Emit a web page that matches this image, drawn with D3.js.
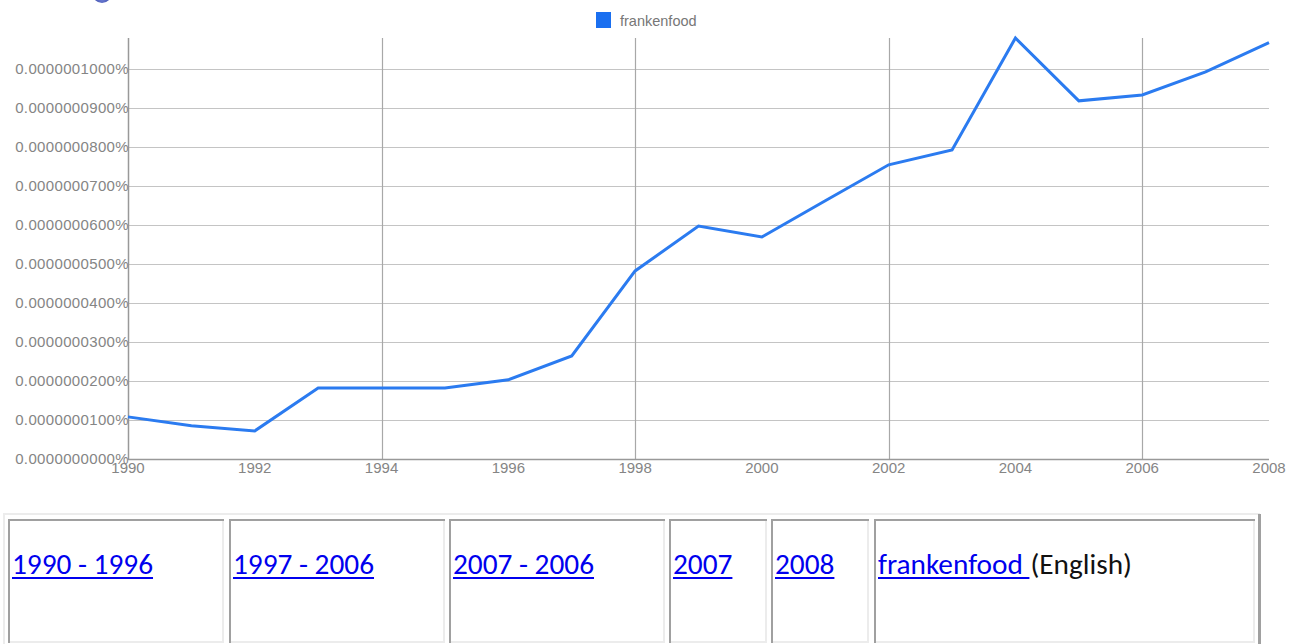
<!DOCTYPE html>
<html>
<head>
<meta charset="utf-8">
<script src="https://cdn.jsdelivr.net/npm/d3@7"></script>
<style>
  html, body { margin: 0; padding: 0; background: #fff; }
  svg { display: block; }
</style>
</head>
<body>
<svg id="chart" width="1298" height="644"></svg>
<script>
// ---- data ----
const seriesName = "frankenfood";
const years = [1990, 1991, 1992, 1993, 1994, 1995, 1996, 1997, 1998, 1999,
               2000, 2001, 2002, 2003, 2004, 2005, 2006, 2007, 2008];
// share of corpus, in percent
const values = [0.0000000108, 0.0000000085, 0.0000000072, 0.0000000182, 0.0000000182,
                0.0000000182, 0.0000000203, 0.0000000264, 0.0000000482, 0.0000000597,
                0.0000000569, 0.0000000662, 0.0000000754, 0.0000000792, 0.0000001079,
                0.0000000918, 0.0000000933, 0.0000000992, 0.0000001067];
const yTicks = [0, 0.00000001, 0.00000002, 0.00000003, 0.00000004, 0.00000005,
                0.00000006, 0.00000007, 0.00000008, 0.00000009, 0.0000001];
const xTickLabels = [1990, 1992, 1994, 1996, 1998, 2000, 2002, 2004, 2006, 2008];
const xGridYears = [1994, 1998, 2002, 2006];
const linkLabels = ["1990 - 1996", "1997 - 2006", "2007 - 2006", "2007", "2008", "frankenfood "];
const linkSuffix = "(English)";

(function () {
// ---- layout ----
const svg = d3.select("#chart");
const pL = 128, pR = 1269, pT = 38, pB = 459;
const x = d3.scaleLinear().domain([1990, 2008]).range([pL, pR]);
const y = d3.scaleLinear().domain([0, d3.max(values)]).range([pB, pT]);
const fmt = d3.format(".10f");

// partial logo circle at top-left
const grad = svg.append("defs").append("radialGradient").attr("id", "lg")
  .attr("cx", "50%").attr("cy", "80%").attr("r", "60%");
grad.append("stop").attr("offset", "0%").attr("stop-color", "#6f7fd6");
grad.append("stop").attr("offset", "100%").attr("stop-color", "#2a3a9a");
svg.append("circle").attr("cx", 102).attr("cy", -7).attr("r", 10).attr("fill", "url(#lg)");

// legend
svg.append("rect").attr("x", 596).attr("y", 12).attr("width", 15).attr("height", 16).attr("fill", "#1a6ff0");
svg.append("text").attr("x", 620).attr("y", 26).text(seriesName)
  .attr("font-family", "Liberation Sans, Arial, sans-serif").attr("font-size", 14.5).attr("fill", "#777");

// horizontal grid
svg.append("g").selectAll("line").data(yTicks.slice(1)).join("line")
  .attr("x1", pL).attr("x2", pR)
  .attr("y1", d => Math.round(y(d)) + 0.5).attr("y2", d => Math.round(y(d)) + 0.5)
  .attr("stroke", "#c4c4c4").attr("stroke-width", 1.2);

// vertical grid
svg.append("g").selectAll("line").data(xGridYears).join("line")
  .attr("x1", d => Math.round(x(d)) + 0.5).attr("x2", d => Math.round(x(d)) + 0.5)
  .attr("y1", pT).attr("y2", pB)
  .attr("stroke", "#a8a8a8").attr("stroke-width", 1.2);

// axes lines
svg.append("line").attr("x1", pL + 0.5).attr("x2", pL + 0.5).attr("y1", pT).attr("y2", pB + 1)
  .attr("stroke", "#999").attr("stroke-width", 1.5);
svg.append("line").attr("x1", pL).attr("x2", pR).attr("y1", pB + 0.5).attr("y2", pB + 0.5)
  .attr("stroke", "#999").attr("stroke-width", 1.5);

// y labels
svg.append("g").selectAll("text").data(yTicks).join("text")
  .attr("x", 129).attr("y", d => y(d)).attr("dy", "0.36em")
  .attr("text-anchor", "end")
  .attr("font-family", "Liberation Sans, Arial, sans-serif").attr("font-size", 15)
  .attr("letter-spacing", 0.35)
  .attr("fill", "#858585")
  .text(d => fmt(d) + "%");

// x labels
svg.append("g").selectAll("text").data(xTickLabels).join("text")
  .attr("x", d => x(d)).attr("y", 473)
  .attr("text-anchor", "middle")
  .attr("font-family", "Liberation Sans, Arial, sans-serif").attr("font-size", 15)
  .attr("fill", "#858585")
  .text(d => d);

// line
const line = d3.line().x((d, i) => x(years[i])).y(d => y(d));
svg.append("path").datum(values).attr("d", line)
  .attr("fill", "none").attr("stroke", "#2b7bf0").attr("stroke-width", 3)
  .attr("stroke-linejoin", "miter");

// ---- table of links ----
const cells = [
  {x0: 8, x1: 224}, {x0: 229, x1: 445}, {x0: 449, x1: 665},
  {x0: 669, x1: 767}, {x0: 771, x1: 869}, {x0: 874, x1: 1255}
];
const tY0 = 519, tY1 = 643;
const light = "#ececec", dark = "#a0a0a0";
svg.append("rect").attr("x", 3).attr("y", 513).attr("width", 1257).attr("height", 2).attr("fill", light);
svg.append("rect").attr("x", 3).attr("y", 513).attr("width", 2).attr("height", 140).attr("fill", light);
svg.append("rect").attr("x", 1258).attr("y", 514).attr("width", 3).attr("height", 140).attr("fill", dark);

const fontFam = "Carlito, Calibri, Lato, 'Open Sans', sans-serif";
const fs = 29.3;
const tg = svg.append("g");
cells.forEach((c, i) => {
  const g = tg.append("g");
  g.append("rect").attr("x", c.x0).attr("y", tY0).attr("width", c.x1 - c.x0).attr("height", 2).attr("fill", dark);
  g.append("rect").attr("x", c.x0).attr("y", tY0).attr("width", 2).attr("height", tY1 - tY0).attr("fill", dark);
  g.append("rect").attr("x", c.x1 - 2).attr("y", tY0 + 2).attr("width", 2).attr("height", tY1 - tY0 - 2).attr("fill", light);
  g.append("rect").attr("x", c.x0 + 2).attr("y", tY1 - 2).attr("width", c.x1 - c.x0 - 2).attr("height", 2).attr("fill", light);
  const t = g.append("text").attr("x", c.x0 + 4).attr("y", 574)
    .attr("font-family", fontFam).attr("font-size", fs)
    .attr("fill", "#0000ee").attr("xml:space", "preserve").style("white-space", "pre")
    .text(linkLabels[i]);
  const w = t.node().getComputedTextLength();
  g.append("rect").attr("x", c.x0 + 4).attr("y", 577).attr("width", w).attr("height", 2).attr("fill", "#0000ee");
  if (i === cells.length - 1) {
    g.append("text").attr("x", c.x0 + 4 + w + 1).attr("y", 574)
      .attr("font-family", fontFam).attr("font-size", fs)
      .attr("fill", "#111").text(linkSuffix);
  }
});
})();
</script>
</body>
</html>
